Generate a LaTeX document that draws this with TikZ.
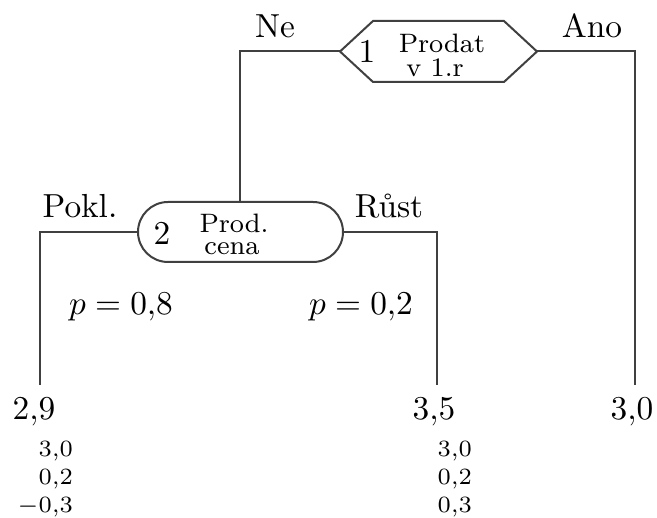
\documentclass[tikz,border=0pt]{standalone}
\usepackage{fontspec}
\usetikzlibrary{calc}
\begin{document}
\begin{tikzpicture}[x=0.3pt,y=-0.3pt,
  edge/.style={line width=0.6pt, draw=black!75},
  lbl/.style={inner sep=0pt, outer sep=0pt, anchor=base, font=\fontsize{10}{12}\selectfont},
  inlbl/.style={inner sep=0pt, outer sep=0pt, anchor=base, font=\fontsize{8}{9.5}\selectfont},
  val/.style={inner sep=0pt, outer sep=0pt, anchor=base east, font=\fontsize{7}{8.5}\selectfont}]
\useasboundingbox (0,0) rectangle (657,518);
% decision node 1 (hexagon)
\node[inner sep=0pt, outer sep=0pt, minimum width=59.1pt, minimum height=18.3pt] (n1) at (438.5,51.5) {};
\draw[edge] (n1.west) -- ($(n1.north west)+(33,0)$) -- ($(n1.north east)+(-33,0)$) -- (n1.east)
  -- ($(n1.south east)+(-33,0)$) -- ($(n1.south west)+(33,0)$) -- cycle;
\node[lbl] (n1num) at (367,63) {1};
\node[inlbl] (n1t1) at (442,53) {Prodat};
\node[inlbl] (n1t2) at (435,77) {v 1.r};
% chance node 2 (stadium)
\node[edge, draw, rounded corners=9pt, inner sep=0pt, outer sep=0pt, minimum width=61.5pt, minimum height=18pt] (n2) at (240.5,232) {};
\node[lbl] (n2num) at (162,245) {2};
\node[inlbl] (n2t1) at (234,233) {Prod.};
\node[inlbl] (n2t2) at (232,255) {cena};
% end points
\coordinate (e1) at (40,385);
\coordinate (e2) at (437,385);
\coordinate (e3) at (635,385);
% connectors
\draw[edge] (n1.west) -| (n2.north);
\draw[edge] (n1.east) -| (e3);
\draw[edge] (n2.west) -| (e1);
\draw[edge] (n2.east) -| (e2);
% branch labels
\node[lbl] (ne) at (275,38) {Ne};
\node[lbl] (ano) at (592,38) {Ano};
\node[lbl] (pokl) at (80,218) {Pokl.};
\node[lbl] (rust) at (389,218) {Růst};
\node[lbl] (p1) at (121,315) {$p=0{,}8$};
\node[lbl] (p2) at (361,315) {$p=0{,}2$};
% leaves
\node[lbl] (l1) at (34,420) {$2{,}9$};
\node[lbl] (l2) at (434,420) {$3{,}5$};
\node[lbl] (l3) at (632,420) {$3{,}0$};
% leaf values
\node[val] (v11) at (73,457) {$3{,}0$};
\node[val] (v12) at (73,485) {$0{,}2$};
\node[val] (v13) at (73,513) {$-0{,}3$};
\node[val] (v21) at (472,457) {$3{,}0$};
\node[val] (v22) at (472,485) {$0{,}2$};
\node[val] (v23) at (472,513) {$0{,}3$};
\end{tikzpicture}
\end{document}
